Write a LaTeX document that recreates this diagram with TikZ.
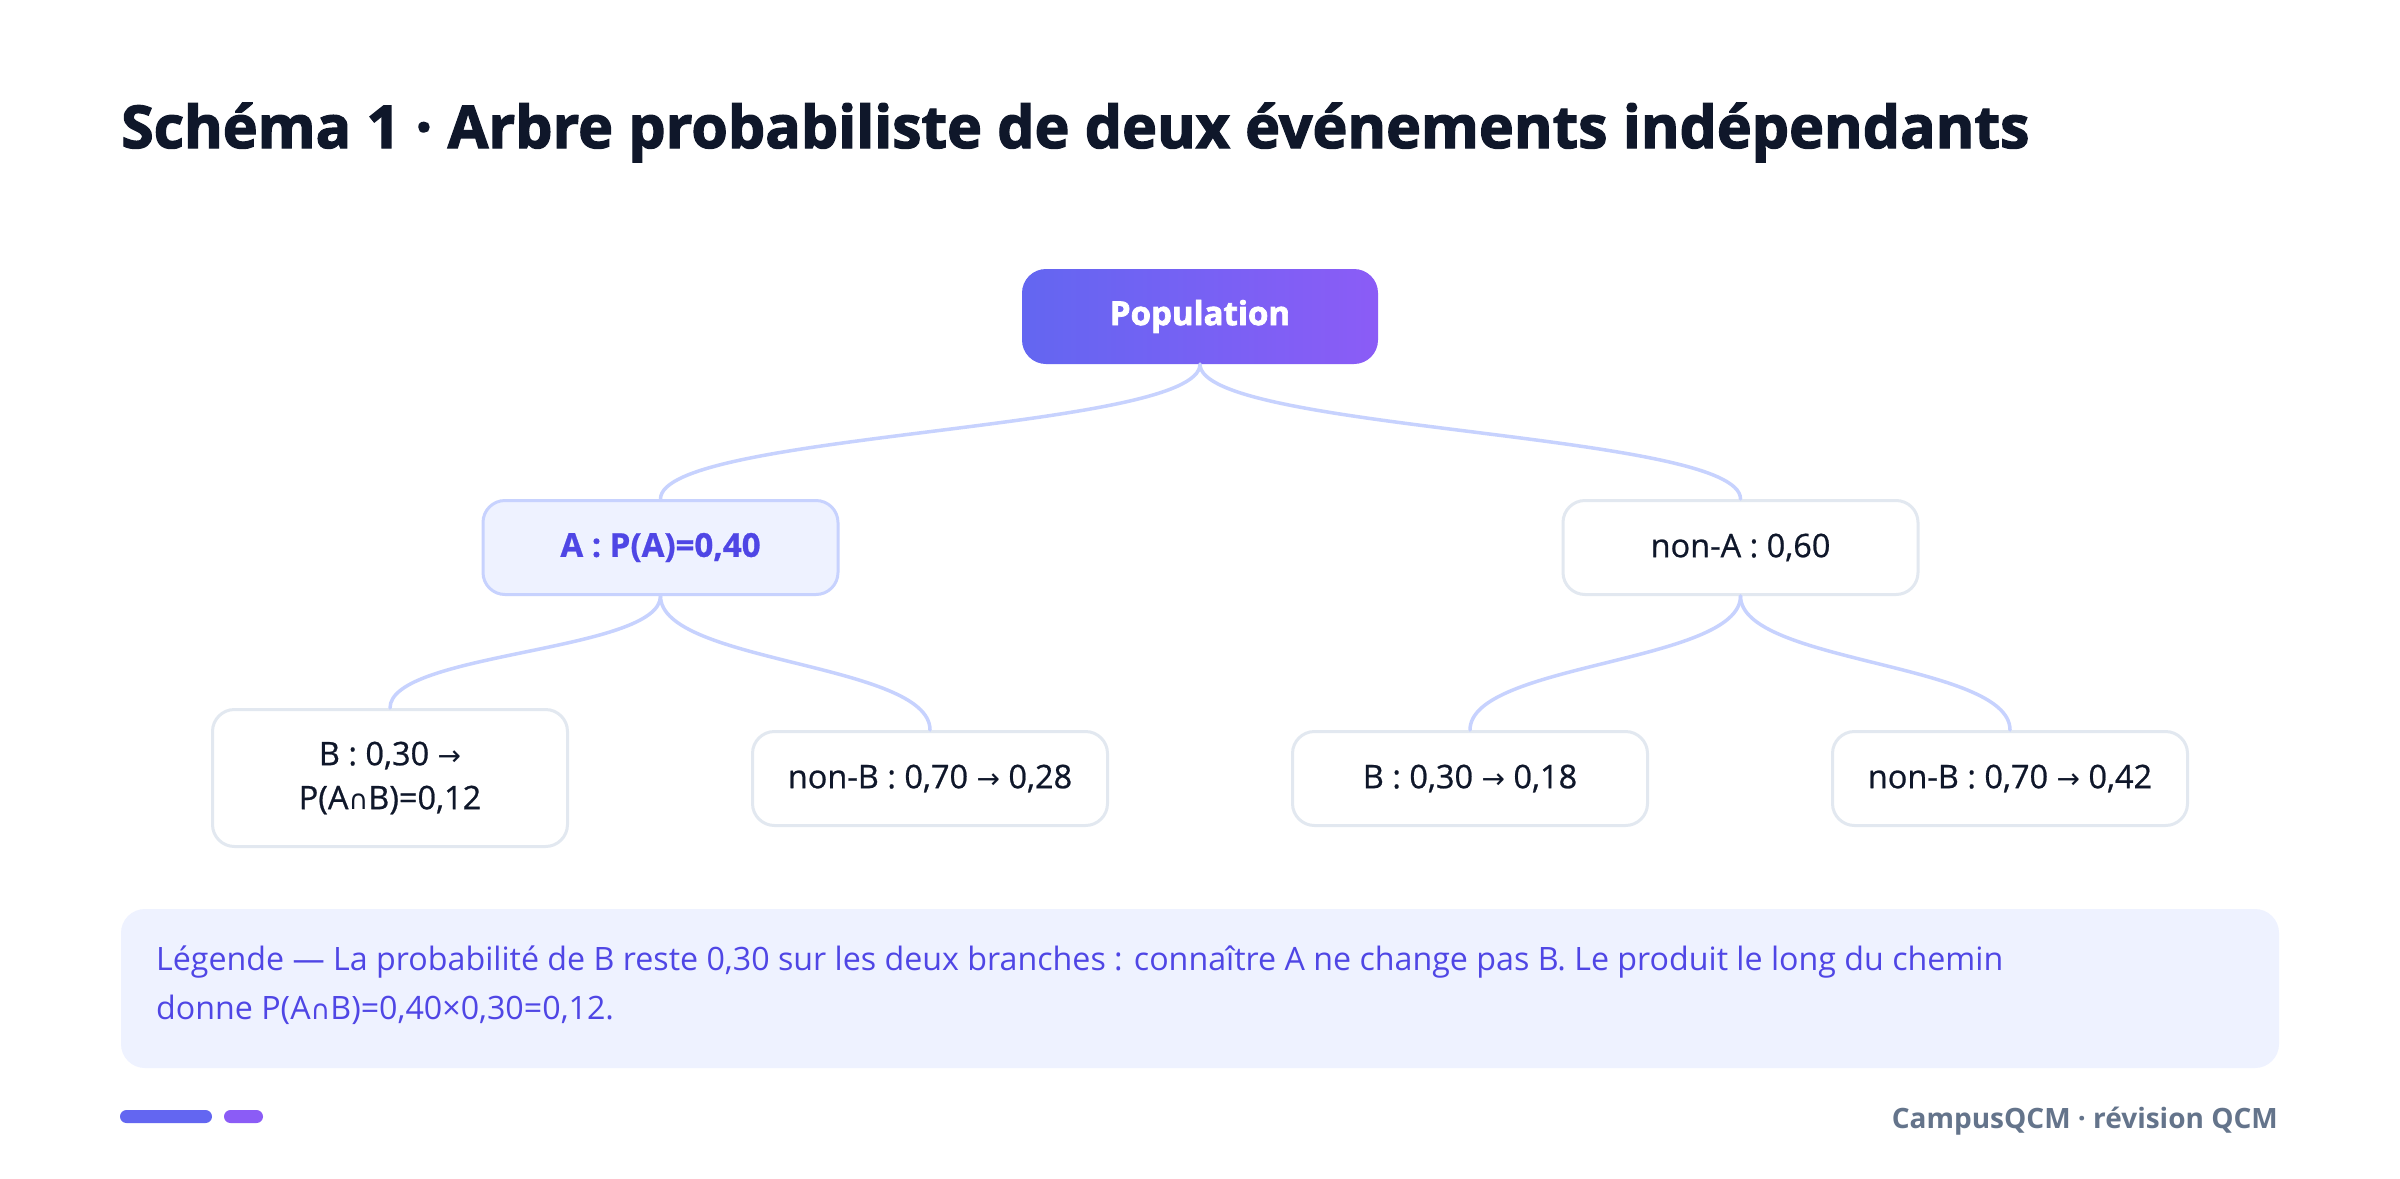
\documentclass[tikz,border=0pt]{standalone}
\usepackage{fontspec}
\setmainfont{Open Sans}
\newfontfamily\heavyfont{Open Sans}[BoldFeatures={FakeBold=2.2}]
\newfontfamily\medfont{Open Sans}[UprightFeatures={FakeBold=0.7}, BoldFeatures={FakeBold=0.8}]
\newfontfamily\symfont{DejaVu Sans}
\usetikzlibrary{calc}
\definecolor{ink}{RGB}{15,23,42}
\definecolor{indigo}{RGB}{79,70,229}
\definecolor{lav}{RGB}{199,210,254}
\definecolor{lavbg}{RGB}{238,242,255}
\definecolor{greyb}{RGB}{226,232,240}
\definecolor{slate}{RGB}{100,116,139}
\definecolor{gradA}{RGB}{99,102,241}
\definecolor{gradB}{RGB}{139,92,246}
\newcommand{\myarr}{{\symfont\fontsize{28}{44}\selectfont →}}
\newcommand{\mycap}{{\symfont\fontsize{27}{44}\selectfont ∩}}
\begin{document}
\begin{tikzpicture}[x=1pt,y=-1pt,
  box/.style={draw=greyb, line width=3pt, fill=white, rounded corners=22pt,
    minimum width=355pt, minimum height=94pt, inner sep=0pt,
    font=\medfont\fontsize{32.5}{44}\selectfont, text=ink, align=center},
  abox/.style={box, draw=lav, fill=lavbg, text=indigo, font=\medfont\fontsize{33}{44}\selectfont\bfseries},
  popbox/.style={rounded corners=24pt, left color=gradA, right color=gradB,
    minimum width=356pt, minimum height=95pt, inner sep=0pt, text=white,
    font=\heavyfont\fontsize{33}{40}\selectfont\bfseries},
  conn/.style={draw=lav, line width=3.5pt, line cap=round},
  legtext/.style={anchor=base west, inner sep=0pt, text=indigo, font=\fontsize{32.2}{49}\selectfont}
]
\useasboundingbox (0,0) rectangle (2400,1178);
\fill[white] (0,0) rectangle (2400,1178);

\node[anchor=base west, text=ink, font=\heavyfont\fontsize{59}{70}\selectfont\bfseries, inner sep=0pt]
  (title) at (121,148) {Schéma 1 · Arbre probabiliste de deux événements indépendants};

\node[popbox] (pop) at (1200,316.5) {Population};
\node[abox] (A) at (660.5,547.5) {A : P(A)=0,40};
\node[box] (nA) at (1740.5,547.5) {non-A : 0,60};
\node[box, minimum height=137pt] (L1) at (390,778) {B : 0,30 \myarr\\P(A\mycap B)=0,12};
\node[box] (L2) at (930,778.5) {non-B : 0,70 \myarr{} 0,28};
\node[box] (L3) at (1470,778.5) {B : 0,30 \myarr{} 0,18};
\node[box] (L4) at (2010,778.5) {non-B : 0,70 \myarr{} 0,42};

\draw[conn] (pop.south) .. controls +(0,67) and +(0,-67) .. (A.north);
\draw[conn] (pop.south) .. controls +(0,67) and +(0,-67) .. (nA.north);
\draw[conn] (A.south) .. controls +(0,56) and +(0,-56) .. (L1.north);
\draw[conn] (A.south) .. controls +(0,67) and +(0,-67) .. (L2.north);
\draw[conn] (nA.south) .. controls +(0,67) and +(0,-67) .. (L3.north);
\draw[conn] (nA.south) .. controls +(0,67) and +(0,-67) .. (L4.north);

\node[fill=lavbg, rounded corners=24pt, minimum width=2158pt, minimum height=159pt, inner sep=0pt]
  (legend) at (1200,988.5) {};
\node[legtext] (leg1) at (156,970) {Légende — La probabilité de B reste 0,30 sur les deux branches : connaître A ne change pas B. Le produit le long du chemin};
\node[legtext] (leg2) at (156,1019) {donne P(A\mycap B)=0,40×0,30=0,12.};

\fill[gradA, rounded corners=6.5pt] (120,1110) rectangle (212,1123);
\fill[gradB, rounded corners=6.5pt] (224,1110) rectangle (263,1123);
\node[anchor=base east, inner sep=0pt, text=slate, font=\fontsize{28}{32}\selectfont\bfseries]
  (foot) at (2278,1128) {CampusQCM · révision QCM};
\end{tikzpicture}
\end{document}
